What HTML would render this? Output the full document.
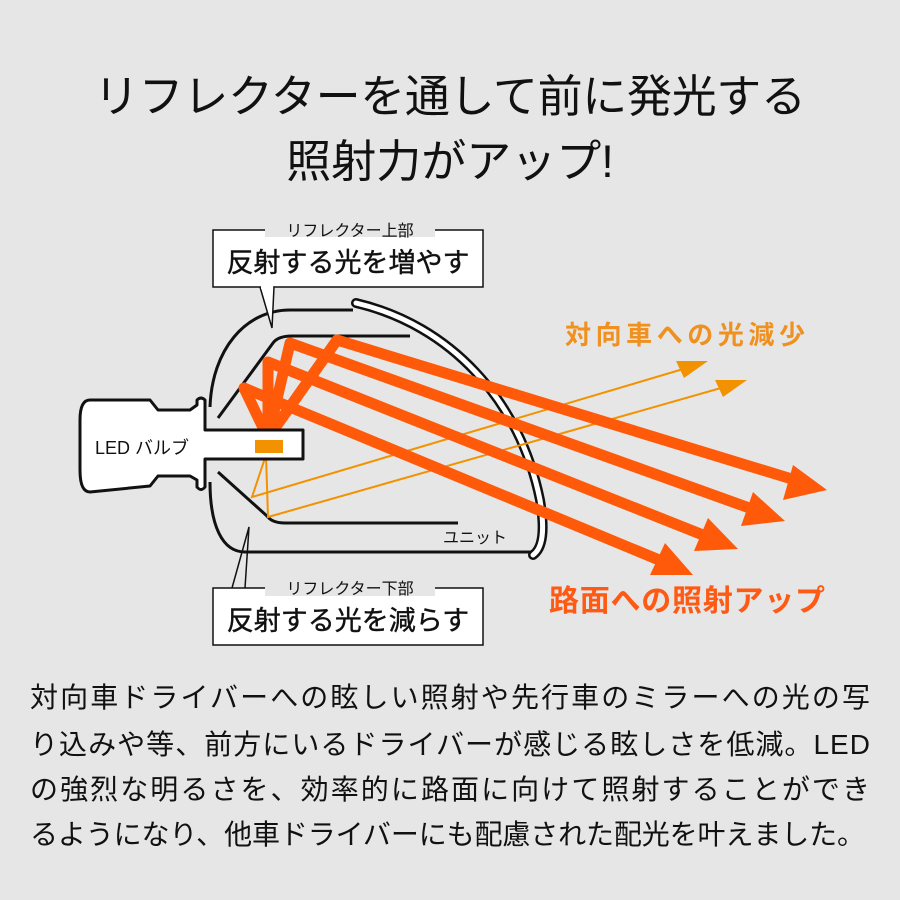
<!DOCTYPE html>
<html><head><meta charset="utf-8"><style>
html,body{margin:0;padding:0;background:#e6e6e6;}
svg{display:block;}
text{font-family:"Liberation Sans","Noto Sans CJK JP",sans-serif;}
</style></head><body>
<svg width="900" height="900" viewBox="0 0 900 900" xmlns="http://www.w3.org/2000/svg">
<rect width="900" height="900" fill="#e6e6e6"/>
<text x="450" y="112" font-size="45" text-anchor="middle" fill="#111" textLength="712">リフレクターを通して前に発光する</text>
<text x="450" y="177" font-size="45" text-anchor="middle" fill="#111">照射力がアップ!</text>

<!-- housing outer -->
<path d="M210,407 C212,350 245,310 290,310 L353,310" fill="none" stroke="#111" stroke-width="3"/>
<path d="M210,482 C210,525 222,552 245,552 L533,552" fill="none" stroke="#111" stroke-width="3"/>
<!-- lens -->
<path d="M356,303 C450,325 520,400 540,500 C545,530 543,548 533,555" fill="none" stroke="#111" stroke-width="10" stroke-linecap="round"/>
<path d="M356,303 C450,325 520,400 540,500 C545,530 543,548 533,555" fill="none" stroke="#fff" stroke-width="5" stroke-linecap="round"/>
<!-- inner reflectors -->
<path d="M218,418 L273,343 Q278,336 292,336 L410,336" fill="none" stroke="#111" stroke-width="3"/>
<path d="M218,472 L267,516 Q272,523 285,523 L458,523" fill="none" stroke="#111" stroke-width="3"/>

<!-- thin orange rays -->
<g stroke="#f39200" stroke-width="2" fill="none">
<polyline points="266,455 252,497 690,367"/>
<polyline points="266,455 268,517 728,386"/>
</g>
<polygon points="708,361 676,361 684,378" fill="#f39200"/>
<polygon points="747,380 715,380 723,397" fill="#f39200"/>

<!-- thick red rays -->
<g stroke="#ff5a0a" stroke-width="11" fill="none" stroke-linejoin="round">
<polyline points="268,438 337,340 795,480"/>
<polyline points="268,438 290,343 755,510"/>
<polyline points="268,438 268,362 708,537"/>
<polyline points="268,438 244,388 664,562"/>
</g>
<g fill="#ff5a0a">
<polygon points="827,490 783,500 793,465"/>
<polygon points="785,521 741,526 753,492"/>
<polygon points="738,549 694,551 708,518"/>
<polygon points="693,575 650,575 665,543"/>
</g>

<!-- bulb -->
<path d="M90,400 L150,400 L158,410 L190,410 L197,405 L197,400 Q201,396 205,400 L205,430 L303,430 L303,459 L205,459 L205,487 Q201,492 197,487 L197,480 L190,476 L158,476 L150,486 L90,492 Q80,492 80,470 L80,420 Q80,400 90,400 Z" fill="#fff" stroke="#111" stroke-width="3" stroke-linejoin="round"/>
<text x="95" y="454" font-size="18" fill="#111">LED バルブ</text>
<rect x="255" y="440" width="28" height="13" fill="#f39200"/>

<text x="443" y="543" font-size="16" fill="#111">ユニット</text>

<!-- callouts -->
<rect x="213" y="230" width="270" height="57" fill="#fff" stroke="#111" stroke-width="1.5"/>
<path d="M260,287 L272,328 L274,287" fill="#fff" stroke="#111" stroke-width="1.5"/>
<rect x="261" y="286" width="12" height="3" fill="#fff"/>
<rect x="265" y="221" width="170" height="16" fill="#e6e6e6"/>
<text x="350" y="236" font-size="16" text-anchor="middle" fill="#111">リフレクター上部</text>
<text x="348" y="272" font-size="27" text-anchor="middle" fill="#111" stroke="#111" stroke-width="0.4">反射する光を増やす</text>

<rect x="213" y="588" width="270" height="57" fill="#fff" stroke="#111" stroke-width="1.5"/>
<path d="M232,588 L249,527 L245,588" fill="none" stroke="#111" stroke-width="1.5"/>
<rect x="265" y="580" width="170" height="16" fill="#e6e6e6"/>
<text x="350" y="594" font-size="16" text-anchor="middle" fill="#111">リフレクター下部</text>
<text x="348" y="630" font-size="27" text-anchor="middle" fill="#111" stroke="#111" stroke-width="0.4">反射する光を減らす</text>

<text x="565" y="344" font-size="26" font-weight="bold" fill="#f0901e" textLength="240">対向車への光減少</text>
<text x="549" y="611" font-size="30" font-weight="bold" fill="#ff5a14" textLength="276">路面への照射アップ</text>

<g font-size="28" fill="#111">
<text x="30" y="707" textLength="840">対向車ドライバーへの眩しい照射や先行車のミラーへの光の写</text>
<text x="30" y="754" textLength="840">り込みや等、前方にいるドライバーが感じる眩しさを低減。LED</text>
<text x="30" y="799" textLength="840">の強烈な明るさを、効率的に路面に向けて照射することができ</text>
<text x="30" y="844" textLength="835">るようになり、他車ドライバーにも配慮された配光を叶えました。</text>
</g>
</svg>
</body></html>
